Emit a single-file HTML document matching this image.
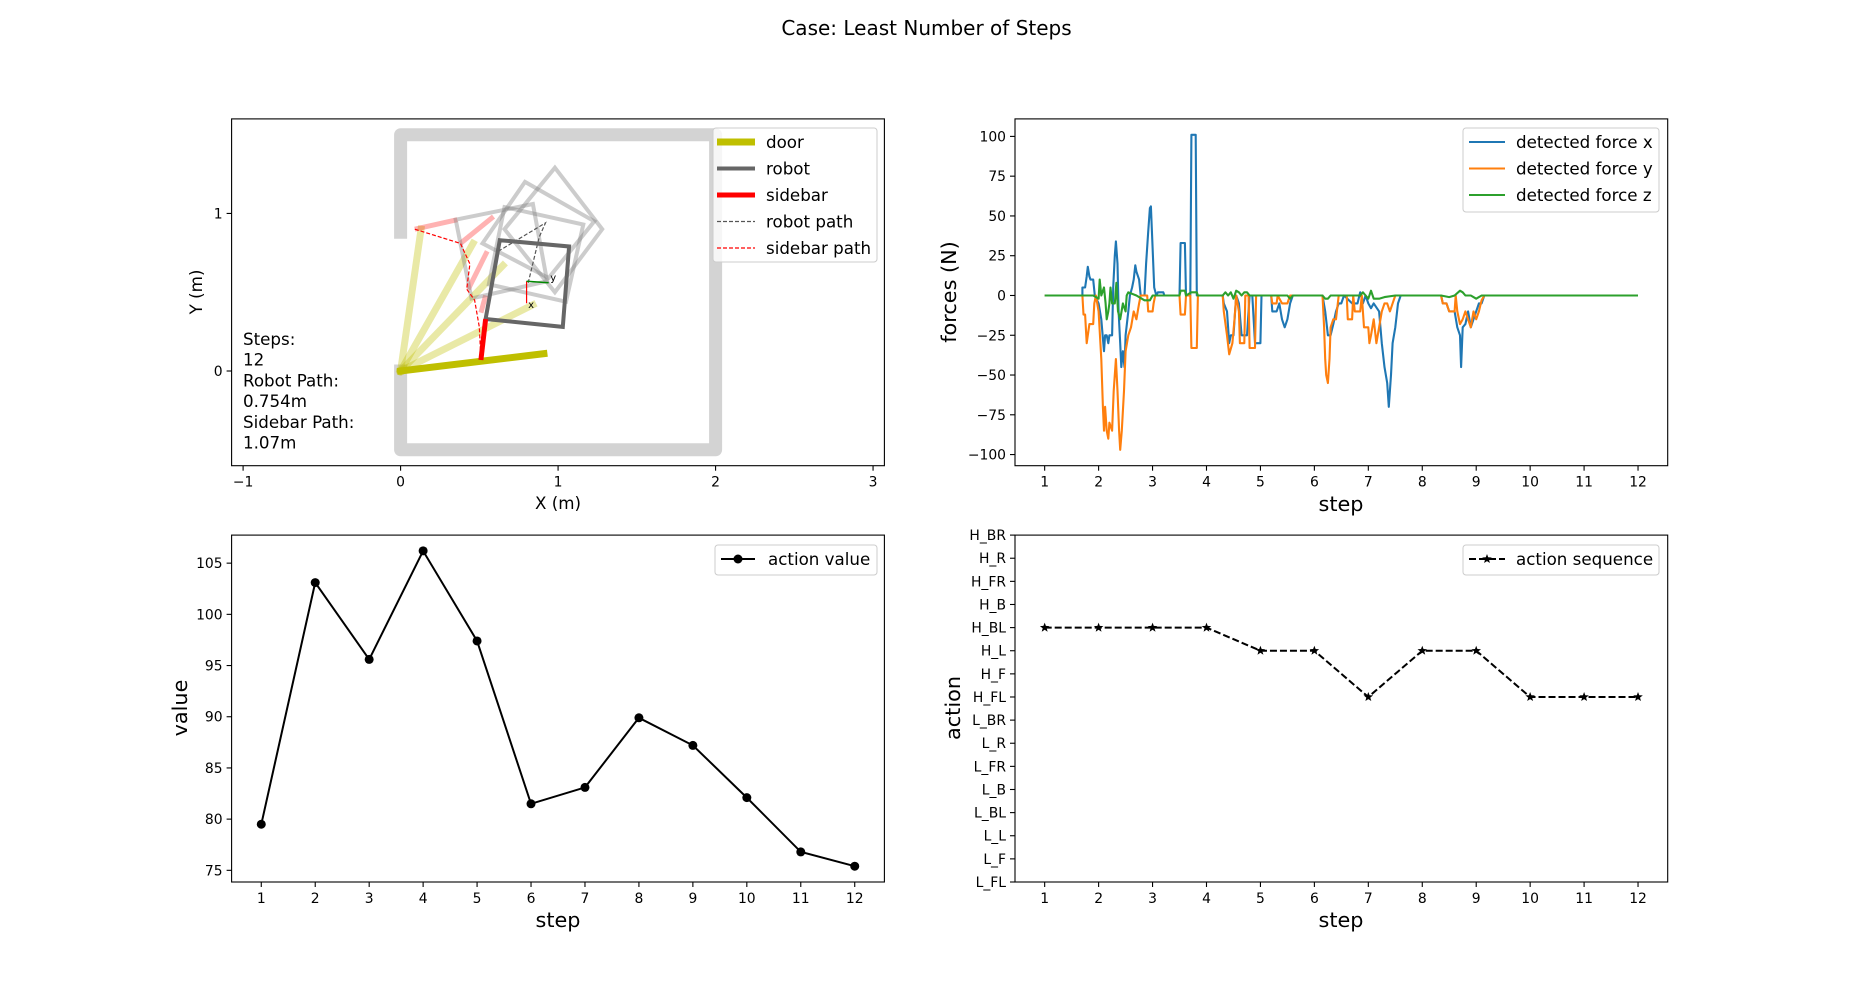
<!DOCTYPE html>
<html><head><meta charset="utf-8"><style>
html,body{margin:0;padding:0;background:#fff;}
svg{display:block;font-family:"DejaVu Sans","Liberation Sans",sans-serif;}
</style></head><body>
<svg id="fig" width="1853" height="991" viewBox="0 0 1853 991" xmlns="http://www.w3.org/2000/svg">
<rect width="1853" height="991" fill="#fff"/>
<text x="926.5" y="35" font-size="20" text-anchor="middle">Case: Least Number of Steps</text>
<g id="g1"></g>
<g id="g2"></g>
<g id="g3"></g>
<g id="g4"></g>
</svg>
<script>
// ---------- data ----------
const steps = [1,2,3,4,5,6,7,8,9,10,11,12];
const actionValues = [79.5,103.1,95.6,106.2,97.4,81.5,83.1,89.9,87.2,82.1,76.8,75.4];
const actionLabels = ["L_FL","L_F","L_L","L_BL","L_B","L_FR","L_R","L_BR","H_FL","H_F","H_L","H_BL","H_B","H_FR","H_R","H_BR"];
const actionSeq = ["H_BL","H_BL","H_BL","H_BL","H_L","H_L","H_FL","H_L","H_L","H_FL","H_FL","H_FL"];
const stepTicks = [1,2,3,4,5,6,7,8,9,10,11,12];
const forceTicks = [-100,-75,-50,-25,0,25,50,75,100];
const valueTicks = [75,80,85,90,95,100,105];
const mapXTicks = [-1,0,1,2,3];
const mapYTicks = [0,1];

const fxT=[1,1.7,1.7,1.75,1.78,1.8,1.83,1.85,1.9,1.93,2.0,2.05,2.08,2.1,2.12,2.15,2.18,2.2,2.25,2.27,2.3,2.32,2.35,2.37,2.4,2.42,2.45,2.48,2.5,2.55,2.58,2.62,2.65,2.68,2.7,2.75,2.78,2.85,2.88,2.92,2.95,2.97,3.0,3.03,3.07,3.1,3.2,3.22,3.5,3.52,3.6,3.62,3.7,3.72,3.8,3.82,4.3,4.32,4.38,4.42,4.45,4.5,4.55,4.6,4.65,4.75,4.8,4.85,4.9,5.0,5.02,5.2,5.22,5.3,5.35,5.4,5.45,5.5,5.55,5.6,6.15,6.2,6.25,6.3,6.35,6.4,6.45,6.5,6.55,6.7,6.8,6.85,6.9,6.95,7.0,7.05,7.1,7.2,7.25,7.3,7.35,7.38,7.42,7.45,7.5,7.55,7.6,8.35,8.38,8.45,8.5,8.6,8.65,8.7,8.72,8.75,8.8,8.85,8.9,8.95,9.0,9.05,9.1,9.15,12];
const fxV=[0,0,5,5,12,18,12,10,10,0,-5,-15,-27,-35,-25,-25,-30,-25,-25,5,25,34,20,-10,-30,-45,-35,-45,-25,-10,0,5,10,19,15,10,0,0,20,40,55,56,30,5,0,2,2,0,0,33,33,0,0,101,101,0,0,-5,-10,-30,-25,-25,0,-5,-25,-25,0,0,-30,-30,0,0,-10,-10,-5,-15,-20,-15,-5,0,0,-10,-25,-25,-18,-10,-5,-5,0,-5,-5,2,-5,0,-5,-8,-5,-10,-30,-45,-55,-70,-50,-30,-20,-5,0,0,-5,-5,-10,-10,-20,-25,-45,-20,-18,-10,-20,-15,-10,-5,-5,0,0];
const fyT=[1,1.7,1.72,1.75,1.78,1.8,1.83,1.9,1.92,1.95,2.0,2.05,2.08,2.1,2.12,2.15,2.18,2.2,2.25,2.28,2.32,2.35,2.38,2.4,2.43,2.47,2.5,2.55,2.6,2.65,2.7,2.75,2.78,2.9,2.92,3.0,3.02,3.05,3.5,3.52,3.6,3.62,3.7,3.72,3.82,3.84,4.3,4.32,4.38,4.42,4.48,4.52,4.55,4.6,4.62,4.7,4.72,4.78,4.8,4.9,4.92,5.2,5.22,5.3,5.32,5.4,5.5,5.55,6.15,6.18,6.2,6.22,6.25,6.28,6.3,6.35,6.4,6.45,6.6,6.62,6.7,6.72,6.75,6.85,6.88,6.92,7.0,7.02,7.05,7.1,7.15,7.2,7.25,7.3,7.35,7.4,7.45,7.5,8.35,8.38,8.45,8.5,8.6,8.62,8.65,8.7,8.75,8.8,8.85,8.9,8.95,9.0,9.05,9.1,9.15,12];
const fyV=[0,0,-12,-12,-30,-25,-18,-18,-5,0,-10,-40,-70,-85,-70,-85,-90,-80,-85,-60,-40,-60,-85,-97,-85,-60,-35,-25,-20,-10,-15,-5,0,0,-10,-10,-5,0,0,-12,-12,0,0,-33,-33,0,0,-10,-25,-37,-30,-15,0,-10,-30,-30,0,0,-33,-33,0,0,-5,-5,0,-5,-5,0,0,-20,-40,-50,-55,-40,-20,-15,-15,0,0,-15,-15,0,-10,-10,0,-20,-20,-30,-25,-15,-30,-20,-10,-5,-5,-10,-5,0,0,-5,-5,-10,-10,0,-10,-18,-15,-10,-15,-20,-10,-15,-10,-3,0,0];
const fzT=[1,1.9,2.0,2.02,2.05,2.1,2.13,2.15,2.18,2.2,2.22,2.25,2.3,2.33,2.36,2.4,2.45,2.5,2.52,2.55,2.7,2.8,2.85,2.95,3.0,3.5,3.52,3.6,3.62,3.72,3.82,3.84,4.3,4.35,4.4,4.45,4.5,4.55,4.6,4.65,4.7,4.75,4.8,5.5,5.55,5.6,6.15,6.2,6.25,6.3,6.85,6.9,6.95,7.0,7.05,7.1,7.2,7.3,7.5,8.35,8.5,8.6,8.7,8.75,8.8,8.9,9.0,9.1,12];
const fzV=[0,0,-2,10,0,5,-5,-15,-10,-5,5,-5,-5,8,-10,-15,-5,-10,0,2,0,-2,-3,-3,0,0,3,3,0,2,2,0,0,2,0,2,-2,3,2,0,2,2,0,0,-2,0,0,-2,-2,0,0,2,0,-2,3,-2,-2,-1,0,0,-1,0,3,2,0,0,-2,0,0];

// map geometry (metres)
const wallX=[0,0,2,2,0,0], wallY=[0,-0.5,-0.5,1.5,1.5,0.88];
const doorEndX=[0.13,0.46,0.65,0.84], doorEndY=[0.90,0.81,0.67,0.42];
const doorNowX=0.91, doorNowY=0.11;
const sbX1=[0.09,0.38,0.43,0.51], sbY1=[0.90,0.81,0.52,0.37], sbX2=[0.36,0.59,0.55,0.54], sbY2=[0.96,0.98,0.76,0.48];
const sbNow=[0.51,0.07,0.54,0.33];
const sbPathX=[0.09,0.38,0.44,0.42,0.47,0.50,0.51], sbPathY=[0.90,0.81,0.68,0.52,0.45,0.28,0.08];
const rbPathX=[0.62,0.92,0.88,0.81], rbPathY=[0.76,0.94,0.85,0.56];
const oldRobotsX=[[0.35,0.84,0.93,0.45],[0.66,1.16,1.05,0.56],[0.98,1.28,0.98,0.66],[0.79,1.23,0.94,0.52]];
const oldRobotsY=[[0.96,1.06,0.57,0.46],[1.04,0.93,0.44,0.55],[1.29,0.90,0.50,0.90],[1.20,0.95,0.59,0.81]];
const robotX=[0.63,1.07,1.03,0.54], robotY=[0.83,0.79,0.28,0.33];

// ---------- helpers ----------
const NS="http://www.w3.org/2000/svg";
function el(parent,tag,attrs,text){const e=document.createElementNS(NS,tag);for(const k in attrs)e.setAttribute(k,attrs[k]);if(text!==undefined)e.textContent=text;parent.appendChild(e);return e;}
function axes(g,L,T,W,H,xlim,ylim){
  const sx=v=>L+(v-xlim[0])/(xlim[1]-xlim[0])*W;
  const sy=v=>T+H-(v-ylim[0])/(ylim[1]-ylim[0])*H;
  return {sx,sy,L,T,W,H};
}
function frame(g,a){
  const r=el(g,'rect',{x:a.L,y:a.T,width:a.W,height:a.H,fill:'none',stroke:'#000','stroke-width':1.1});
  
  
}
function xticks(g,a,ticks,labels){
  ticks.forEach((t,i)=>{const x=a.sx(t);
    const l=el(g,'line',{x1:x,x2:x,y1:a.T+a.H,y2:a.T+a.H+5,stroke:'#000','stroke-width':1.1});
    
    
    const tx=el(g,'text',{x:x,y:a.T+a.H+21,'font-size':13.9,'text-anchor':'middle'},labels?labels[i]:String(t).replace('-','\u2212'));
    
    
  });
}
function yticks(g,a,ticks,labels){
  ticks.forEach((t,i)=>{const y=a.sy(t);
    const l=el(g,'line',{x1:a.L-5,x2:a.L,y1:y,y2:y,stroke:'#000','stroke-width':1.1});
    
    
    const tx=el(g,'text',{x:a.L-9,y:y+5,'font-size':13.9,'text-anchor':'end'},labels?labels[i]:String(t).replace('-','\u2212'));
    
    
  });
}
function poly(xs,ys,a){return xs.map((x,i)=>a.sx(x).toFixed(1)+','+a.sy(ys[i]).toFixed(1)).join(' ');}
function legendBox(g,x,y,w,h){
  const r=el(g,'rect',{x:x,y:y,width:w,height:h,rx:3,fill:'#fff','fill-opacity':0.8,stroke:'#ccc','stroke-width':1});
  
  
}

// ---------- panel 1: map ----------
(function(){
  const g=document.getElementById('g1');
  const a=axes(g,231.6,118.9,652.8,346.8,[-1.073,3.072],[-0.601,1.60]);
  const w=el(g,'polyline',{points:poly(wallX,wallY,a),fill:'none',stroke:'#d3d3d3','stroke-width':13,'stroke-linejoin':'round','stroke-linecap':'square'});
  
  
  doorEndX.forEach((x,i)=>{const l=el(g,'line',{x1:a.sx(0),y1:a.sy(0),x2:a.sx(x),y2:a.sy(doorEndY[i]),stroke:'#bfbf00','stroke-opacity':0.35,'stroke-width':7,'stroke-linecap':'square'});
    
    });
  sbX1.forEach((x,i)=>{const l=el(g,'line',{x1:a.sx(x),y1:a.sy(sbY1[i]),x2:a.sx(sbX2[i]),y2:a.sy(sbY2[i]),stroke:'#ff0000','stroke-opacity':0.3,'stroke-width':5});
    
    });
  oldRobotsX.forEach((xs,i)=>{const p=el(g,'polygon',{points:poly(xs,oldRobotsY[i],a),fill:'none',stroke:'#808080','stroke-opacity':0.4,'stroke-width':4});
    
    });
  const rp=el(g,'polyline',{points:poly(rbPathX,rbPathY,a),fill:'none',stroke:'#555','stroke-width':1.2,'stroke-dasharray':'4,2'});
  
  
  const sp=el(g,'polyline',{points:poly(sbPathX,sbPathY,a),fill:'none',stroke:'#f00','stroke-width':1.2,'stroke-dasharray':'4,2'});
  
  
  const rb=el(g,'polygon',{points:poly(robotX,robotY,a),fill:'none',stroke:'#666','stroke-width':4});
  
  
  const d=el(g,'line',{x1:a.sx(0),y1:a.sy(0),x2:a.sx(doorNowX),y2:a.sy(doorNowY),stroke:'#bfbf00','stroke-width':7,'stroke-linecap':'square'});
  
  
  const sb=el(g,'line',{x1:a.sx(sbNow[0]),y1:a.sy(sbNow[1]),x2:a.sx(sbNow[2]),y2:a.sy(sbNow[3]),stroke:'#f00','stroke-width':5});
  
  
  const fx=el(g,'line',{x1:a.sx(0.80),y1:a.sy(0.57),x2:a.sx(0.80),y2:a.sy(0.43),stroke:'#f00','stroke-width':1.2});
  
  
  const fy=el(g,'line',{x1:a.sx(0.80),y1:a.sy(0.57),x2:a.sx(0.94),y2:a.sy(0.56),stroke:'#080','stroke-width':1.5});
  
  
  const lx=el(g,'text',{x:a.sx(0.81),y:a.sy(0.40),'font-size':10},'x');
  
  
  const ly=el(g,'text',{x:a.sx(0.95),y:a.sy(0.57),'font-size':10},'y');
  
  
  const info=["Steps:","12","Robot Path:","0.754m","Sidebar Path:","1.07m"];
  info.forEach((s,i)=>{const t=el(g,'text',{x:243,y:345+i*20.7,'font-size':16.7},s);
    
    });
  frame(g,a);
  xticks(g,a,mapXTicks); yticks(g,a,mapYTicks);
  const xl=el(g,'text',{x:558,y:509,'font-size':16.7,'text-anchor':'middle'},'X (m)');
  
  
  const yl=el(g,'text',{x:0,y:0,'font-size':16.7,'text-anchor':'middle',transform:'translate(202,292) rotate(-90)'},'Y (m)');
  
  
  legendBox(g,713,128,164,134);
  const items=[['door','#bfbf00',7,null],['robot','#666',4,null],['sidebar','#f00',5,null],['robot path','#555',1.2,'4,2'],['sidebar path','#f00',1.2,'4,2']];
  items.forEach((it,i)=>{const y=142+i*26.5;
    const l=el(g,'line',{x1:717,x2:755,y1:y,y2:y,stroke:it[1],'stroke-width':it[2]});
    if(it[3])l.setAttribute('stroke-dasharray',it[3]);
    
    
    const t=el(g,'text',{x:766,y:y+6,'font-size':16.7},it[0]);
    
    });
})();

// ---------- panel 2: forces ----------
(function(){
  const g=document.getElementById('g2');
  const a=axes(g,1015,118.9,652.7,346.8,[0.45,12.55],[-107,111]);
  [[fxT,fxV,'#1f77b4','force-x-line'],[fyT,fyV,'#ff7f0e','force-y-line'],[fzT,fzV,'#2ca02c','force-z-line']].forEach(s=>{
    const p=el(g,'polyline',{points:poly(s[0],s[1],a),fill:'none',stroke:s[2],'stroke-width':2.1,'stroke-linejoin':'round'});
    
    
  });
  frame(g,a);
  xticks(g,a,stepTicks); yticks(g,a,forceTicks);
  const xl=el(g,'text',{x:1341,y:511,'font-size':20.8,'text-anchor':'middle'},'step');
  
  
  const yl=el(g,'text',{x:0,y:0,'font-size':20.8,'text-anchor':'middle',transform:'translate(956,292) rotate(-90)'},'forces (N)');
  
  
  legendBox(g,1463,128,196,84);
  [['detected force x','#1f77b4'],['detected force y','#ff7f0e'],['detected force z','#2ca02c']].forEach((it,i)=>{const y=142+i*26.5;
    const l=el(g,'line',{x1:1469,x2:1505,y1:y,y2:y,stroke:it[1],'stroke-width':2.1});
    
    
    const t=el(g,'text',{x:1516,y:y+6,'font-size':16.7},it[0]);
    
    });
})();

// ---------- panel 3: action value ----------
(function(){
  const g=document.getElementById('g3');
  const a=axes(g,231.6,535.1,652.8,346.9,[0.45,12.55],[73.86,107.74]);
  const p=el(g,'polyline',{points:poly(steps,actionValues,a),fill:'none',stroke:'#000','stroke-width':2});
  
  
  steps.forEach((s,i)=>{const c=el(g,'circle',{cx:a.sx(s),cy:a.sy(actionValues[i]),r:4.5,fill:'#000'});
    
    });
  frame(g,a);
  xticks(g,a,stepTicks); yticks(g,a,valueTicks);
  const xl=el(g,'text',{x:558,y:927,'font-size':20.8,'text-anchor':'middle'},'step');
  
  
  const yl=el(g,'text',{x:0,y:0,'font-size':20.8,'text-anchor':'middle',transform:'translate(187,708) rotate(-90)'},'value');
  
  
  legendBox(g,715,545,162,30);
  const l=el(g,'line',{x1:721,x2:755,y1:559,y2:559,stroke:'#000','stroke-width':2});
  
  
  const c=el(g,'circle',{cx:738,cy:559,r:4.5,fill:'#000'});
  
  
  const t=el(g,'text',{x:768,y:565,'font-size':16.7},'action value');
  
  
})();

// ---------- panel 4: action sequence ----------
(function(){
  const g=document.getElementById('g4');
  const a=axes(g,1015,535.1,652.7,346.9,[0.45,12.55],[0,15]);
  const idx=actionSeq.map(s=>actionLabels.indexOf(s));
  const p=el(g,'polyline',{points:poly(steps,idx,a),fill:'none',stroke:'#000','stroke-width':2,'stroke-dasharray':'7,3'});
  
  
  function star(cx,cy,r){let pts=[];for(let k=0;k<10;k++){const ang=-Math.PI/2+k*Math.PI/5;const rr=k%2?r*0.42:r;pts.push((cx+rr*Math.cos(ang)).toFixed(1)+','+(cy+rr*Math.sin(ang)).toFixed(1));}return pts.join(' ');}
  steps.forEach((s,i)=>{const m=el(g,'polygon',{points:star(a.sx(s),a.sy(idx[i]),5),fill:'#000'});
    
    });
  frame(g,a);
  xticks(g,a,stepTicks);
  yticks(g,a,actionLabels.map((_,i)=>i),actionLabels);
  const xl=el(g,'text',{x:1341,y:927,'font-size':20.8,'text-anchor':'middle'},'step');
  
  
  const yl=el(g,'text',{x:0,y:0,'font-size':20.8,'text-anchor':'middle',transform:'translate(960,708) rotate(-90)'},'action');
  
  
  legendBox(g,1463,545,196,30);
  const l=el(g,'line',{x1:1469,x2:1505,y1:559,y2:559,stroke:'#000','stroke-width':2,'stroke-dasharray':'7,3'});
  
  
  const m=el(g,'polygon',{points:star(1487,559,5),fill:'#000'});
  
  
  const t=el(g,'text',{x:1516,y:565,'font-size':16.7},'action sequence');
  
  
})();
</script>
</body></html>
